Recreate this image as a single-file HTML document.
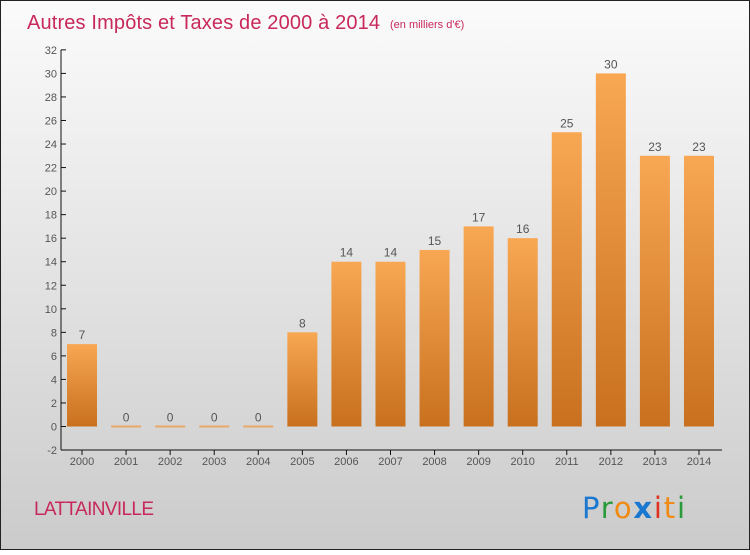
<!DOCTYPE html>
<html><head><meta charset="utf-8"><style>
html,body{margin:0;padding:0}
body{width:750px;height:550px;overflow:hidden}
</style></head><body>
<svg width="750" height="550" xmlns="http://www.w3.org/2000/svg" font-family="Liberation Sans, sans-serif">
<defs>
<linearGradient id="bg" x1="0" y1="0" x2="0" y2="1"><stop offset="0" stop-color="#fbfbfb"/><stop offset="1" stop-color="#cbcbcb"/></linearGradient>
<linearGradient id="bar" x1="0" y1="0" x2="0" y2="1"><stop offset="0" stop-color="#f8a753"/><stop offset="1" stop-color="#c8701e"/></linearGradient>
</defs>
<rect x="0.5" y="0.5" width="749" height="549" fill="url(#bg)" stroke="#222"/>
<text x="27" y="29" font-size="20" fill="#c8285a" textLength="353">Autres Impôts et Taxes de 2000 à 2014</text>
<text x="390" y="28" font-size="11" fill="#c8285a">(en milliers d'€)</text>
<g id="axes"></g>
<g id="bars"></g>
<text x="34" y="515" font-size="19" fill="#c8285a" textLength="120">LATTAINVILLE</text>
<text x="582" y="518" font-size="29" font-family="DejaVu Sans, sans-serif" textLength="103"><tspan fill="#1a78d0">P</tspan><tspan fill="#2a9a3a">r</tspan><tspan fill="#f08a10">o</tspan><tspan fill="#1a78d0" font-weight="bold">x</tspan><tspan fill="#e03020">i</tspan><tspan fill="#f08a10">t</tspan><tspan fill="#2a9a3a">i</tspan></text>
</svg>
<script>
const years=["2000","2001","2002","2003","2004","2005","2006","2007","2008","2009","2010","2011","2012","2013","2014"];
const values=[7,0,0,0,0,8,14,14,15,17,16,25,30,23,23];
const yTicks=[-2,0,2,4,6,8,10,12,14,16,18,20,22,24,26,28,30,32];
const NS="http://www.w3.org/2000/svg";
const y0=426.5, ppu=11.77, axisX=61, x0=82, step=44.07, bw=30;
const Y=v=>y0-v*ppu, X=i=>x0+i*step;
function mk(tag,attrs,parent){const e=document.createElementNS(NS,tag);for(const k in attrs)e.setAttribute(k,attrs[k]);parent.appendChild(e);return e;}
const ax=document.getElementById('axes'), bg=document.getElementById('bars');
let l=mk('line',{x1:axisX,y1:Y(32),x2:axisX,y2:Y(-2),stroke:'#111'},ax);


l=mk('line',{x1:axisX,y1:Y(-2),x2:722,y2:Y(-2),stroke:'#111'},ax);


yTicks.forEach(t=>{
  mk('line',{x1:axisX,y1:Y(t),x2:axisX+5,y2:Y(t),stroke:'#111'},ax);
  const tx=mk('text',{x:axisX-4,y:Y(t)+4,'font-size':11,fill:'#555','text-anchor':'end'},ax);
  tx.textContent=t;
  
  
});
years.forEach((yr,i)=>{
  mk('line',{x1:X(i),y1:Y(-2),x2:X(i),y2:Y(-2)+5,stroke:'#111'},ax);
  const tx=mk('text',{x:X(i),y:Y(-2)+15,'font-size':11,fill:'#555','text-anchor':'middle'},ax);
  tx.textContent=yr;
  
  
  const v=values[i];
  const h=Math.max(v*ppu,2);
  const r=mk('rect',{x:X(i)-bw/2,y:Y(v)-(v===0?1:0),width:bw,height:h,fill:v===0?'#eaa868':'url(#bar)'},bg);
  
  
  const lb=mk('text',{x:X(i),y:Y(v)-5,'font-size':12,fill:'#555','text-anchor':'middle'},bg);
  lb.textContent=v;
  
  
});
</script>
</body></html>
